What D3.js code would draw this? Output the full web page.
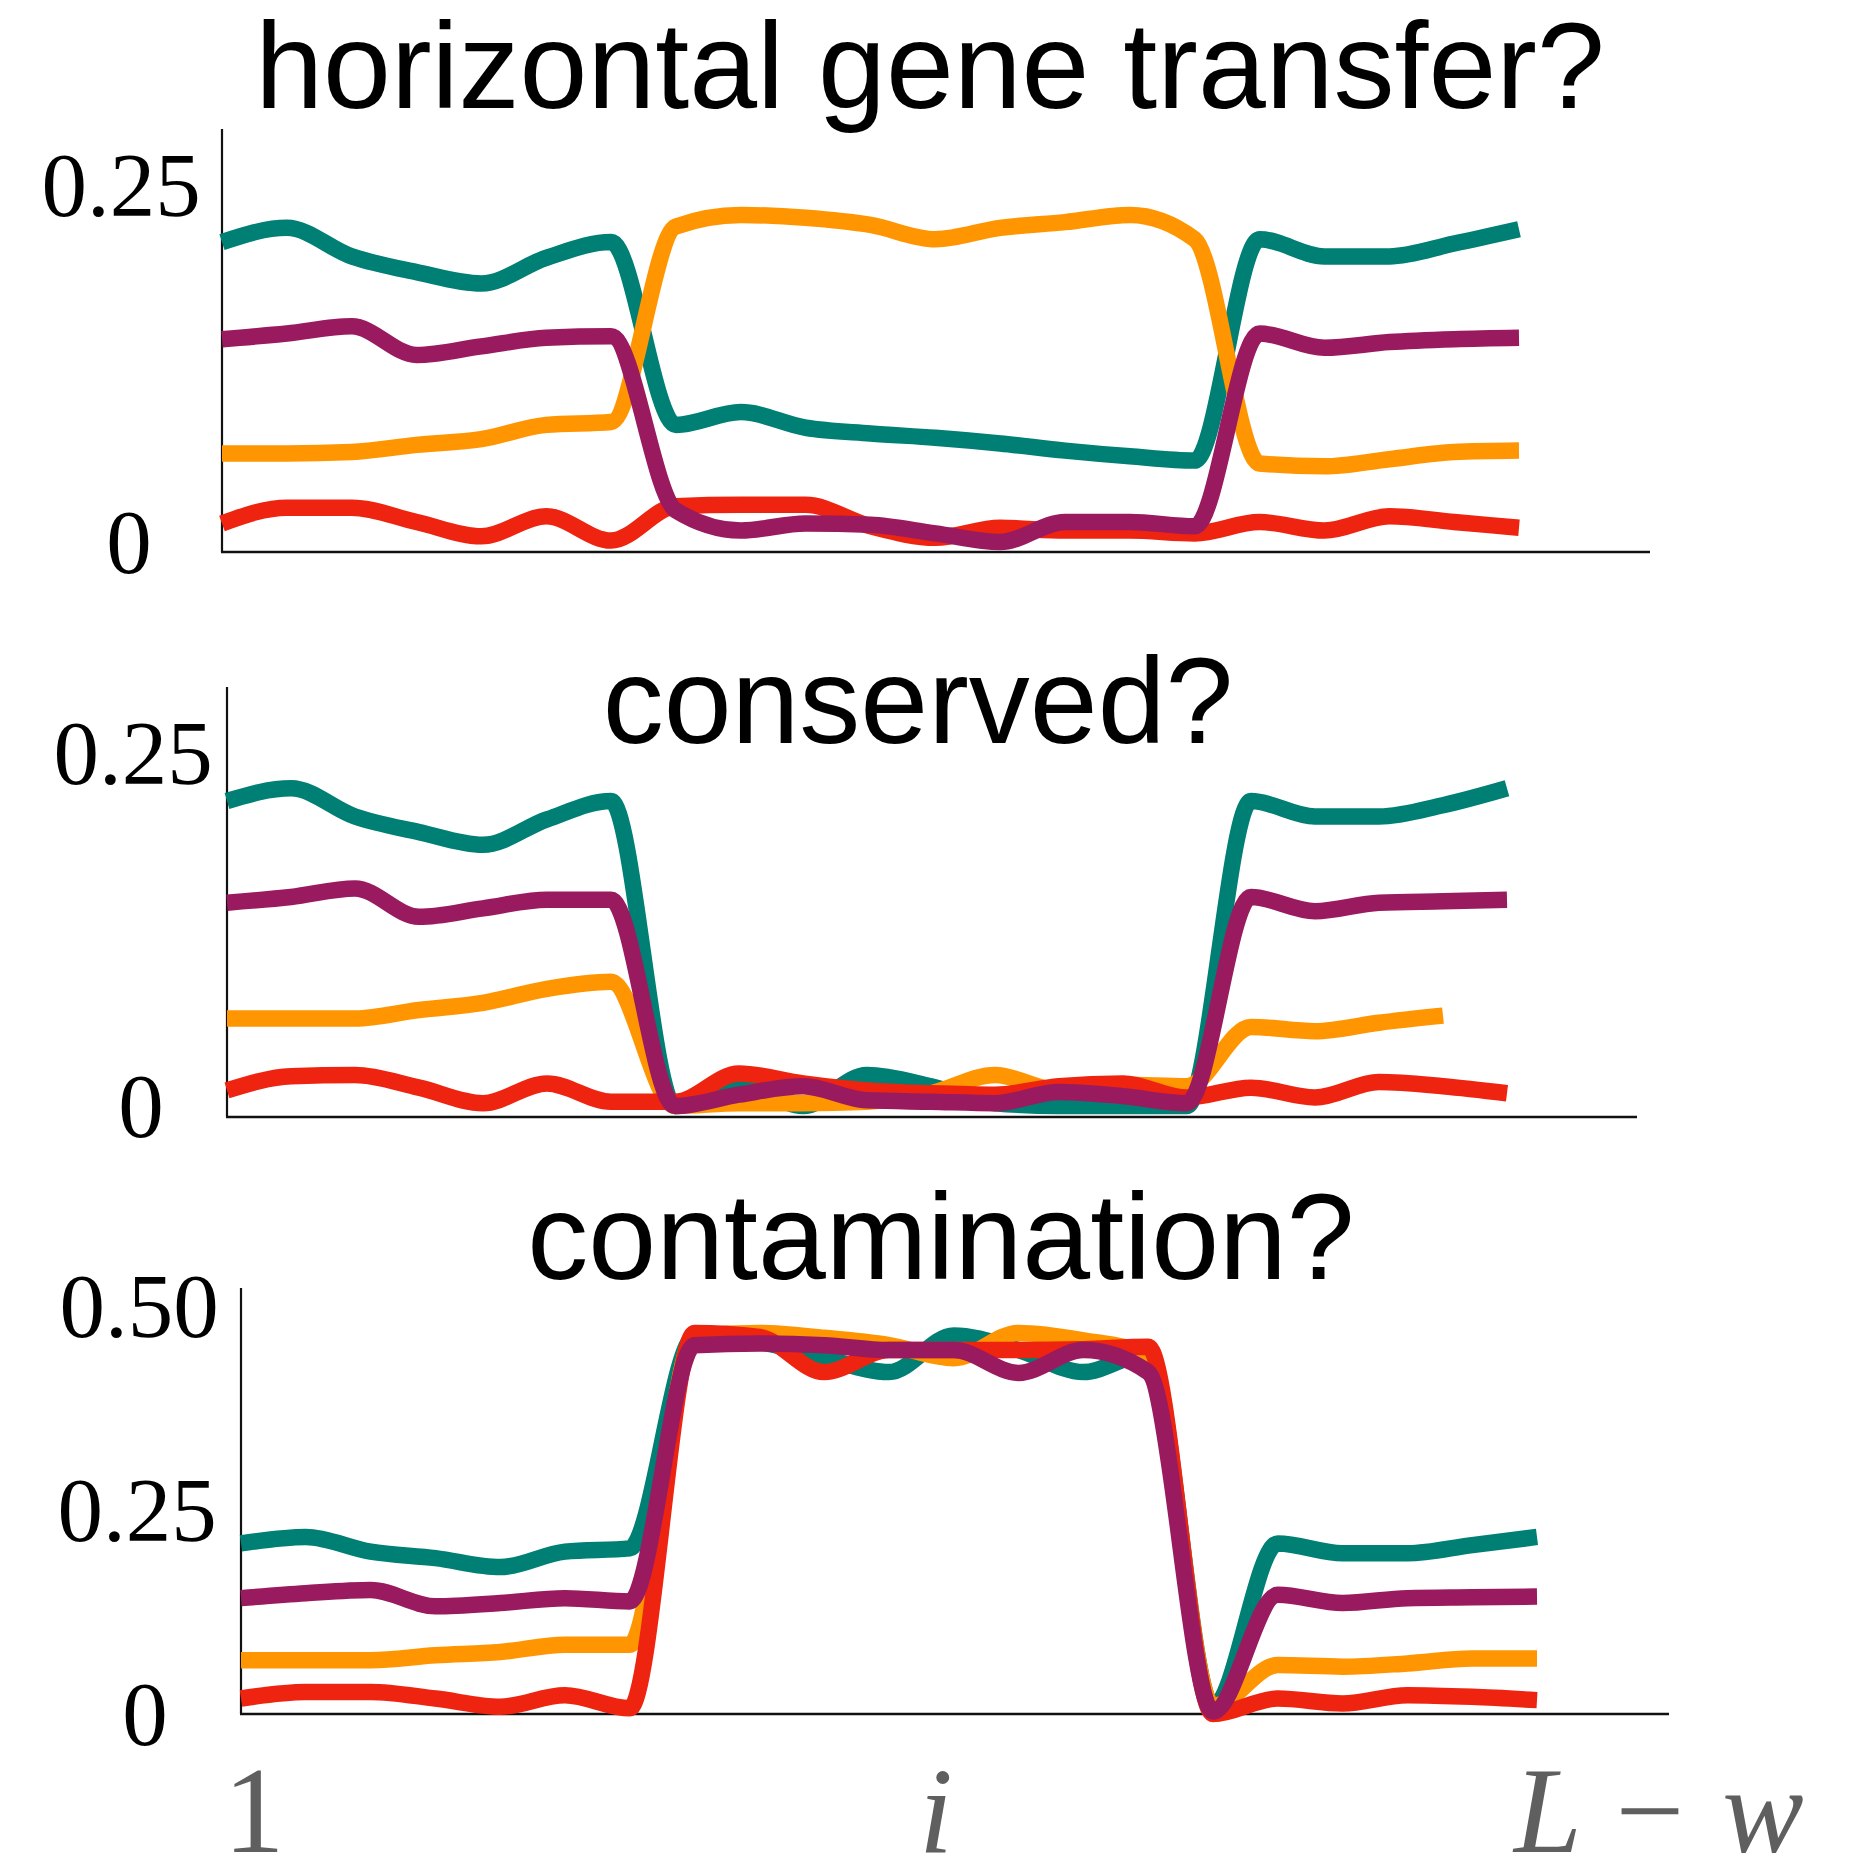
<!DOCTYPE html>
<html>
<head>
<meta charset="utf-8">
<script src="https://cdn.jsdelivr.net/npm/d3@7/dist/d3.min.js"></script>
<style>
  html, body { margin: 0; padding: 0; background: #ffffff; }
  svg { display: block; }
</style>
</head>
<body>
<svg id="chart" width="1865" height="1859"></svg>
<script>
// Window position index along the sequence (1 ... L - w)
const windowIndex = d3.range(21);

// Panel titles and y tick values
const panelTitles = ["horizontal gene transfer?", "conserved?", "contamination?"];
const ticksTop = [0, 0.25];
const ticksMiddle = [0, 0.25];
const ticksBottom = [0, 0.25, 0.5];
const tickLabelsTop = ["0", "0.25"];
const tickLabelsMiddle = ["0", "0.25"];
const tickLabelsBottom = ["0", "0.25", "0.50"];

// Series values, horizontal gene transfer panel
const hgtTeal   = [0.210, 0.220, 0.200, 0.189, 0.181, 0.199, 0.210, 0.082, 0.091, 0.080, 0.076, 0.073, 0.069, 0.064, 0.060, 0.057, 0.212, 0.200, 0.200, 0.209, 0.219];
const hgtOrange = [0.062, 0.062, 0.063, 0.068, 0.072, 0.082, 0.084, 0.221, 0.229, 0.227, 0.222, 0.212, 0.220, 0.224, 0.229, 0.212, 0.055, 0.053, 0.058, 0.063, 0.064];
const hgtPurple = [0.142, 0.146, 0.151, 0.131, 0.137, 0.143, 0.144, 0.022, 0.008, 0.013, 0.012, 0.006, 0.000, 0.014, 0.014, 0.011, 0.146, 0.136, 0.140, 0.142, 0.143];
const hgtRed    = [0.013, 0.024, 0.024, 0.014, 0.004, 0.018, 0.001, 0.025, 0.026, 0.026, 0.011, 0.003, 0.010, 0.008, 0.008, 0.006, 0.014, 0.008, 0.018, 0.014, 0.010];

// Series values, conserved panel (orange stops one window early)
const consTeal   = [0.216, 0.225, 0.205, 0.194, 0.185, 0.203, 0.216, 0.000, 0.016, 0.000, 0.022, 0.014, 0.002, 0.000, 0.000, 0.000, 0.216, 0.205, 0.205, 0.213, 0.225];
const consOrange = [0.062, 0.062, 0.062, 0.068, 0.073, 0.083, 0.088, 0.000, 0.002, 0.002, 0.003, 0.009, 0.022, 0.011, 0.015, 0.014, 0.056, 0.053, 0.059, 0.064];
const consPurple = [0.144, 0.148, 0.154, 0.134, 0.140, 0.146, 0.146, 0.000, 0.008, 0.014, 0.004, 0.003, 0.002, 0.010, 0.007, 0.002, 0.148, 0.138, 0.144, 0.145, 0.146];
const consRed    = [0.011, 0.021, 0.022, 0.013, 0.002, 0.016, 0.003, 0.003, 0.023, 0.016, 0.011, 0.009, 0.008, 0.014, 0.016, 0.006, 0.013, 0.006, 0.017, 0.014, 0.009];

// Series values, contamination panel
const contTeal   = [0.209, 0.217, 0.199, 0.191, 0.180, 0.199, 0.203, 0.462, 0.456, 0.436, 0.419, 0.464, 0.446, 0.419, 0.442, 0.009, 0.209, 0.197, 0.197, 0.207, 0.217];
const contOrange = [0.066, 0.066, 0.066, 0.072, 0.076, 0.085, 0.085, 0.463, 0.467, 0.461, 0.452, 0.436, 0.467, 0.458, 0.440, 0.010, 0.060, 0.058, 0.062, 0.068, 0.068];
const contPurple = [0.142, 0.148, 0.152, 0.132, 0.136, 0.142, 0.138, 0.452, 0.454, 0.452, 0.446, 0.446, 0.418, 0.446, 0.419, 0.003, 0.146, 0.136, 0.142, 0.143, 0.144];
const contRed    = [0.019, 0.027, 0.027, 0.019, 0.009, 0.023, 0.007, 0.467, 0.462, 0.419, 0.446, 0.446, 0.446, 0.447, 0.450, 0.000, 0.019, 0.013, 0.023, 0.021, 0.017];

const colors = { teal: "#007F74", orange: "#FF9500", purple: "#9A1A5F", red: "#EE2410" };

// Layout of each panel (pixels)
const panels = [
  { title: panelTitles[0], titleX: 930, titleY: 108,
    axisX: 222, axisTop: 129, axisBottom: 552, axisRight: 1650, xEnd: 1519,
    yRange: [542, 185], yDomain: [0, 0.25],
    ticks: ticksTop, tickLabels: tickLabelsTop, labelX: [129, 121],
    series: [["teal", hgtTeal], ["orange", hgtOrange], ["red", hgtRed], ["purple", hgtPurple]] },
  { title: panelTitles[1], titleX: 918, titleY: 743,
    axisX: 227, axisTop: 687, axisBottom: 1117, axisRight: 1637, xEnd: 1507,
    yRange: [1106, 753], yDomain: [0, 0.25],
    ticks: ticksMiddle, tickLabels: tickLabelsMiddle, labelX: [141, 133],
    series: [["teal", consTeal], ["orange", consOrange], ["red", consRed], ["purple", consPurple]] },
  { title: panelTitles[2], titleX: 941, titleY: 1279,
    axisX: 241, axisTop: 1288, axisBottom: 1714, axisRight: 1669, xEnd: 1537,
    yRange: [1714, 1306], yDomain: [0, 0.5],
    ticks: ticksBottom, tickLabels: tickLabelsBottom, labelX: [145, 137, 139],
    series: [["teal", contTeal], ["orange", contOrange], ["red", contRed], ["purple", contPurple]] }
];

const svg = d3.select("#chart");

panels.forEach(p => {
  const x = d3.scaleLinear().domain([0, windowIndex.length - 1]).range([p.axisX, p.xEnd]);
  const y = d3.scaleLinear().domain(p.yDomain).range(p.yRange);
  const g = svg.append("g");

  // title
  g.append("text")
    .attr("x", p.titleX).attr("y", p.titleY)
    .attr("text-anchor", "middle")
    .attr("font-family", "'Liberation Sans', Arial, Helvetica, sans-serif")
    .attr("font-size", 122)
    .attr("fill", "#000")
    .text(p.title);

  // axes
  g.append("line")
    .attr("x1", p.axisX).attr("x2", p.axisX)
    .attr("y1", p.axisTop).attr("y2", p.axisBottom)
    .attr("stroke", "#111").attr("stroke-width", 2.2);
  g.append("line")
    .attr("x1", p.axisX - 1).attr("x2", p.axisRight)
    .attr("y1", p.axisBottom).attr("y2", p.axisBottom)
    .attr("stroke", "#111").attr("stroke-width", 2.6);

  // y tick labels
  g.selectAll("text.tick")
    .data(p.ticks)
    .join("text")
    .attr("class", "tick")
    .attr("x", (d, i) => p.labelX[i])
    .attr("y", d => y(d))
    .attr("dy", "0.34em")
    .attr("text-anchor", "middle")
    .attr("font-family", "'Liberation Serif', 'Times New Roman', serif")
    .attr("font-size", 91)
    .attr("fill", "#000")
    .text((d, i) => p.tickLabels[i]);

  // series lines
  const line = d3.line()
    .x((d, i) => x(windowIndex[i]))
    .y(d => y(d))
    .curve(d3.curveMonotoneX);

  g.selectAll("path.series")
    .data(p.series)
    .join("path")
    .attr("class", "series")
    .attr("d", d => line(d[1]))
    .attr("fill", "none")
    .attr("stroke", d => colors[d[0]])
    .attr("stroke-width", 16.5)
    .attr("stroke-linejoin", "round")
    .attr("stroke-linecap", "butt");
});

// position labels under the bottom panel
const posLabels = svg.append("g")
  .attr("font-family", "'Liberation Serif', 'Times New Roman', serif")
  .attr("font-size", 122)
  .attr("fill", "#5f5f5f");
posLabels.append("text").attr("x", 254).attr("y", 1852).attr("text-anchor", "middle").text("1");
posLabels.append("text").attr("x", 936).attr("y", 1852).attr("text-anchor", "middle")
  .attr("font-style", "italic").text("i");
posLabels.append("text").attr("x", 1548).attr("y", 1852).attr("text-anchor", "middle")
  .attr("font-style", "italic").text("L");
posLabels.append("text").attr("x", 1650).attr("y", 1852).attr("text-anchor", "middle").text("\u2212");
posLabels.append("text").attr("x", 1763).attr("y", 1852).attr("text-anchor", "middle")
  .attr("font-style", "italic").text("w");
</script>
</body>
</html>
